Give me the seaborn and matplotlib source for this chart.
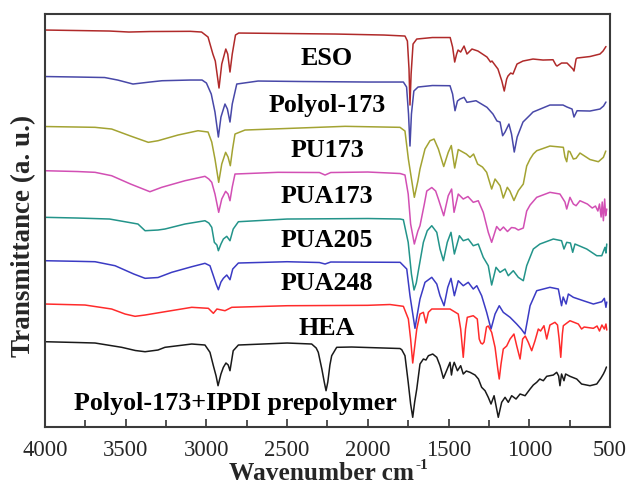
import matplotlib
matplotlib.use("Agg")
import matplotlib.pyplot as plt
from matplotlib.ticker import MultipleLocator
import numpy as np
import seaborn as sns

# FTIR spectra, wavenumber (cm-1) / transmittance (a. u., stacked)
eso_wn = [4000, 3800, 3600, 3480, 3350, 3100, 3030, 2990, 2960, 2945, 2922, 2905, 2880, 2868, 2854,
          2840, 2820, 2800, 2500, 2200, 1900, 1770, 1755, 1745, 1739, 1732, 1720, 1697, 1600, 1490,
          1475, 1462, 1450, 1441, 1425, 1404, 1386, 1355, 1318, 1262, 1240, 1231, 1194, 1170, 1155,
          1140, 1132, 1115, 1101, 1076, 1039, 977, 915, 853, 835, 828, 800, 766, 730, 723,
          710, 704, 624, 562, 543, 525]
eso_t = [397, 396.5, 396, 395, 395.5, 395.7, 395, 390, 373, 366, 339, 363, 378, 373, 355,
         373, 392, 394, 393.5, 393, 392, 391, 386, 358, 322, 353, 383, 388, 389.5, 389.5,
         380, 365, 373, 377, 375, 381, 373, 378, 376, 370, 365, 366, 358, 346, 336,
         348, 351, 354, 353, 363, 366, 368, 367, 367.3, 362, 361, 364, 364, 358, 356,
         368, 369, 370.5, 373, 376, 380.5]

polyol_wn = [4000, 3800, 3630, 3550, 3455, 3350, 3275, 3100, 3027, 3000, 2970, 2947, 2926, 2910, 2885,
             2870, 2854, 2840, 2812, 2680, 2400, 2000, 1780, 1760, 1748, 1739, 1730, 1715, 1689, 1600,
             1491, 1475, 1460, 1445, 1429, 1404, 1386, 1330, 1262, 1225, 1200, 1181, 1165, 1150, 1126,
             1110, 1093, 1075, 1039, 995, 977, 872, 791, 766, 735, 723, 704, 624, 562, 540, 525]
polyol_t = [350.5, 350, 349.5, 347, 343, 345, 346.3, 347, 347, 344, 333, 315, 290, 310, 323,
            318, 305, 323, 343, 346, 345.5, 345, 345, 340, 313, 281, 313, 336, 340, 341.5,
            341.3, 333, 316.3, 326, 328, 329.7, 324.7, 326.3, 319.7, 313, 306, 305, 291.3, 295, 303,
            293, 275, 290, 305, 312, 315, 322, 322, 320, 318, 310, 316.3, 316, 318, 321, 325]

pu173_wn = [4000, 3800, 3690, 3587, 3470, 3360, 3300, 3176, 3052, 2990, 2967, 2947, 2924, 2905, 2881,
            2866, 2852, 2838, 2823, 2761, 2141, 1801, 1770, 1749, 1712, 1690, 1677, 1646, 1615, 1590,
            1563, 1530, 1502, 1483, 1462, 1440, 1409, 1390, 1367, 1345, 1320, 1290, 1264, 1233, 1212,
            1181, 1161, 1136, 1120, 1095, 1068, 1037, 1016, 995, 975, 954, 872, 789, 779, 768,
            758, 748, 727, 710, 686, 624, 572, 541, 526]
pu173_t = [300.5, 300, 299.7, 298, 291, 284.7, 286.3, 292, 296.3, 295, 285, 268, 244.7, 263, 274.7,
           270, 261.3, 278, 293, 297, 300.7, 299.7, 296, 268, 229.7, 246, 258, 278, 286.3, 288,
           278, 260.5, 274.7, 281.5, 259, 277.5, 274.7, 273, 269.7, 273, 263, 260, 254.7, 238, 248,
           241.3, 229, 239.7, 236, 226.5, 236.3, 243, 261, 268, 273, 276.3, 281, 279.7, 270, 265.3,
           276, 275.3, 268, 268.7, 274, 267.5, 265.3, 269.7, 276]

pua173_wn = [4000, 3800, 3690, 3587, 3470, 3350, 3277, 3133, 3009, 2985, 2967, 2947, 2924, 2905, 2881,
             2866, 2854, 2840, 2823, 2557, 2300, 2265, 2230, 2000, 1800, 1770, 1750, 1735, 1712, 1690,
             1677, 1650, 1635, 1604, 1580, 1563, 1530, 1502, 1481, 1466, 1440, 1409, 1380, 1347, 1316,
             1285, 1254, 1233, 1202, 1181, 1160, 1135, 1110, 1088, 1068, 1037, 1016, 995, 954, 872,
             810, 779, 768, 748, 727, 710, 686, 640, 610, 590, 575, 565, 555, 548, 541,
             533, 527, 520]
pua173_t = [256.3, 255.5, 254.7, 251.3, 243, 235.3, 239.7, 246.3, 250.7, 248, 244.7, 233, 214.7, 228, 235.7,
            233, 226.3, 240, 253, 254.7, 254.5, 252, 254.5, 255, 253.5, 252, 233, 203, 183, 196,
            201.3, 223, 236, 239.5, 236, 228, 211.3, 231.3, 238, 214.7, 233, 228, 230.5, 224.7, 226.3,
            214.7, 194.7, 184.7, 200.5, 196.5, 200, 195.5, 199.5, 199, 197, 199, 216, 222, 229.7, 234.7,
            233, 225, 218, 229.7, 223, 221.3, 226.3, 223, 219, 221, 216, 223, 210, 225, 206.3,
            228, 211.3, 218]

pua205_wn = [4000, 3800, 3600, 3424, 3380, 3300, 3257, 3133, 3009, 2985, 2967, 2951, 2935, 2926, 2910,
             2895, 2874, 2854, 2834, 2802, 2500, 2000, 1800, 1780, 1750, 1730, 1714, 1700, 1687, 1656,
             1632, 1604, 1573, 1553, 1532, 1508, 1485, 1464, 1433, 1409, 1378, 1347, 1316, 1285, 1254,
             1233, 1206, 1181, 1150, 1130, 1099, 1068, 1037, 1016, 975, 934, 851, 800, 785, 768,
             745, 731, 717, 644, 582, 551, 531, 525, 520]
pua205_t = [209.7, 209, 208, 203, 196.3, 197, 198, 203, 206.3, 204, 199.7, 184.7, 182, 176.3, 183,
            188, 190.7, 186.3, 198, 205.3, 208, 208.5, 208, 207.3, 184.7, 153, 137, 144, 156.3, 184.7,
            196.3, 201.3, 194.7, 178, 166.3, 184.7, 194.7, 173, 191.3, 186.3, 188, 181.3, 183, 169.7, 161.3,
            142, 159.7, 154.7, 158, 151.3, 156.3, 149.7, 146.3, 161.3, 178, 183, 188, 186.3, 178, 184.7,
            184, 174.7, 183, 178, 171.3, 171.3, 179.7, 174, 183]

pua248_wn = [4000, 3800, 3690, 3566, 3450, 3380, 3300, 3215, 3091, 3009, 2978, 2957, 2940, 2926, 2910,
             2895, 2874, 2854, 2837, 2802, 2500, 2300, 2265, 2230, 1800, 1759, 1739, 1708, 1690, 1677,
             1646, 1604, 1573, 1553, 1528, 1505, 1485, 1464, 1440, 1409, 1378, 1347, 1325, 1295, 1264,
             1237, 1212, 1186, 1161, 1119, 1078, 1050, 1027, 1010, 995, 954, 913, 872, 820, 800,
             790, 772, 758, 727, 665, 603, 551, 535, 525, 520]
pua248_t = [166.3, 165.7, 165.3, 161.3, 153, 148.7, 149.5, 154.7, 160.3, 163.7, 161.3, 151.3, 143, 137.3, 145,
            148.7, 152, 147.3, 158, 164, 165.3, 164.5, 163, 165, 164.7, 158, 131.3, 98.7, 116, 128,
            144.7, 149.7, 143, 131.3, 121.3, 139.7, 148.7, 131.3, 146.3, 141.3, 144.7, 138, 141.3, 131.3, 114.7,
            98, 113, 121.3, 114.7, 109.7, 103, 98, 93, 108, 121.3, 136.3, 138, 139.7, 138, 121.3,
            130, 123, 133, 129.7, 126.3, 123, 125.3, 128.7, 119.7, 125]

hea_wn = [4000, 3752, 3587, 3504, 3442, 3380, 3257, 3091, 2988, 2957, 2935, 2885, 2843, 2500, 2000,
          1863, 1780, 1749, 1735, 1722, 1708, 1697, 1677, 1656, 1640, 1625, 1604, 1491, 1440, 1425,
          1409, 1395, 1384, 1347, 1322, 1310, 1300, 1290, 1280, 1265, 1254, 1233, 1212, 1195, 1186,
          1175, 1161, 1140, 1119, 1095, 1078, 1057, 1041, 1025, 1006, 985, 965, 944, 930, 909,
          892, 872, 841, 825, 815, 805, 795, 789, 748, 696, 676, 660, 603, 580, 565,
          550, 535, 525, 520]
hea_t = [123, 122, 118, 113, 110.7, 112, 115.3, 119.7, 118.7, 113.7, 118, 116.3, 119.7, 121.3, 121.7,
         122.5, 120.7, 108, 88, 64, 83, 98, 113, 114.7, 104, 114.7, 118, 118, 113, 98,
         69.7, 98, 109.7, 111.3, 108, 88, 84, 83, 85, 100, 101, 94.7, 79.7, 58, 48,
         63, 78, 81, 88, 93, 81.3, 68, 88, 91, 84.7, 76.3, 86, 98, 96, 101.3,
         88, 102, 104.7, 102, 88, 69.7, 93, 101.3, 106.3, 103, 98, 100, 98.7, 101, 96,
         102, 98, 103, 97]

prepoly_wn = [4000, 3800, 3690, 3525, 3440, 3380, 3300, 3257, 3091, 3009, 2978, 2957, 2940, 2928, 2910,
              2895, 2879, 2865, 2854, 2834, 2802, 2500, 2348, 2320, 2307, 2285, 2270, 2259, 2248, 2235,
              2224, 2193, 2100, 1801, 1790, 1770, 1750, 1735, 1722, 1710, 1697, 1677, 1656, 1640, 1625,
              1598, 1573, 1553, 1532, 1508, 1491, 1482, 1474, 1465, 1445, 1425, 1409, 1390, 1367, 1336,
              1315, 1295, 1274, 1254, 1237, 1218, 1192, 1171, 1150, 1130, 1109, 1082, 1057, 1026, 995,
              975, 954, 935, 913, 892, 851, 830, 818, 810, 800, 785, 775, 748, 706, 676,
              624, 582, 557, 541, 531, 522]
prepoly_t = [85.3, 84.5, 84, 79.7, 76.5, 75.3, 77, 79.7, 83, 82, 74.7, 61.3, 51, 41.3, 53,
             59.7, 64, 62, 56.3, 76.3, 82, 84, 83, 79, 74.7, 58, 45, 36.3, 45, 62,
             71.3, 79.7, 80, 78.5, 77.3, 71.3, 44.7, 23, 9.7, 25, 38, 63, 68, 67, 71.3,
             73, 69.7, 61.3, 48.7, 58, 64.7, 52, 60, 64.7, 56.3, 61.3, 53, 56, 54.7, 52,
             48, 39.7, 36.3, 29.7, 23, 31.3, 9.7, 24.7, 29.7, 24.7, 31.3, 28, 33, 31.3, 38,
             42, 44.7, 48, 46.3, 50.7, 52, 54.7, 51, 41.3, 53, 46.3, 53, 50.7, 48, 43,
             41.3, 43, 48.7, 53, 56.3, 60]

names = ["ESO", "Polyol-173", "PU173", "PUA173", "PUA205", "PUA248", "HEA",
         "Polyol-173+IPDI prepolymer"]
colors = ["#b02a2a", "#4848a8", "#a3a332", "#d24fb4", "#23948a", "#3b3bc4", "#ff2b2b", "#1a1a1a"]
label_wn = [2253, 2253, 2253, 2253, 2253, 2253, 2253, 2820]
label_t = [363, 316, 271, 225, 181, 138, 93, 18]

spectra = [(eso_wn, eso_t), (polyol_wn, polyol_t), (pu173_wn, pu173_t), (pua173_wn, pua173_t),
           (pua205_wn, pua205_t), (pua248_wn, pua248_t), (hea_wn, hea_t), (prepoly_wn, prepoly_t)]

sns.set_style("ticks")
plt.rcParams["font.family"] = ["Liberation Serif", "DejaVu Serif"]

fig = plt.figure(figsize=(6.31, 4.85), dpi=100)
ax = fig.add_axes([0.0713, 0.1175, 0.8954, 0.8515])

for (wn, t), c in zip(spectra, colors):
    sns.lineplot(x=np.array(wn), y=np.array(t), color=c, linewidth=1.1, ax=ax,
                 estimator=None, sort=False)

for name, x, y in zip(names, label_wn, label_t):
    ax.text(x, y, name, ha="center", va="baseline", fontsize=18.7, fontweight="bold", color="black")

ax.set_xlim(4000, 500)
ax.set_ylim(0, 413)
ax.xaxis.set_major_locator(MultipleLocator(500))
ax.xaxis.set_minor_locator(MultipleLocator(250))
ax.set_yticks([])
ax.tick_params(axis="x", which="both", direction="in", top=False, labelsize=16.3, pad=8.5)
ax.tick_params(axis="x", which="major", length=6, width=1.2, color="#333333")
ax.tick_params(axis="x", which="minor", length=5, width=1.2, color="#333333")
for s in ax.spines.values():
    s.set_linewidth(1.5)
    s.set_color("#3a3a3a")

# x label with a separate raised "-1" as in the original
ax.set_xlabel("Wavenumber cm", fontsize=18.3, fontweight="bold")
ax.xaxis.label.set_va("baseline")
ax.xaxis.set_label_coords(0.49, -0.127)
fig.canvas.draw()
bb = ax.xaxis.label.get_window_extent()
fig.text((bb.x1 + 1) / fig.bbox.width, 1 - 469 / 485, "-1", fontsize=11, fontweight="bold",
         ha="left", va="baseline")

ax.set_ylabel("Transmittance (a. u.)", fontsize=19.5, fontweight="bold")
ax.yaxis.set_label_coords(-0.016, 0.465)

fig.savefig("out.png", dpi=100)
